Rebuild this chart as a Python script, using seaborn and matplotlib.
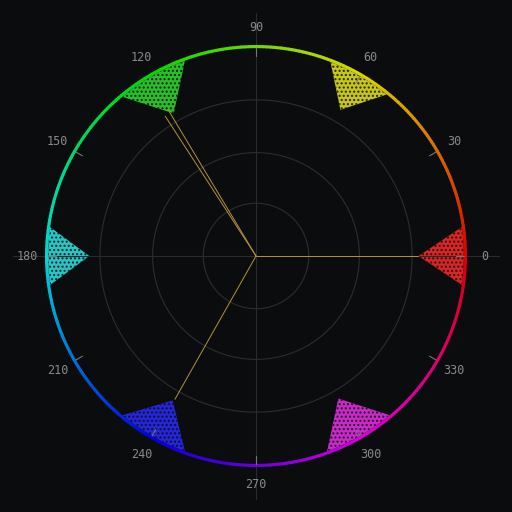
import numpy as np
import matplotlib
matplotlib.use("Agg")
import matplotlib.pyplot as plt
import matplotlib.colors as mcolors
import seaborn as sns

sns.set_style("dark")

# hue clusters: centre angle (deg), inner radius, half width at rim (deg), colour
cluster_hue = [0, 60, 120, 180, 240, 300]
cluster_inner = [0.77, 0.80, 0.78, 0.79, 0.79, 0.78]
cluster_half = [8, 9, 10, 8, 10, 10]
cluster_color = ["#ff2a2a", "#e8e820", "#30e030", "#30e8e8", "#2a2aff", "#ee30ee"]

# vector lines: angle (deg), length
vec_angle = [0, 121, 123, 240.5]
vec_len = [0.77, 0.81, 0.79, 0.78]

grid_r = [0.25, 0.49, 0.74]
tick_labels = [0, 30, 60, 90, 120, 150, 180, 210, 240, 270, 300, 330]

bg = "#0b0c0e"
fig = plt.figure(figsize=(5.12, 5.12), dpi=100, facecolor=bg)
ax = fig.add_axes([45 / 512, 45 / 512, 422 / 512, 422 / 512], projection="polar")
ax.set_facecolor(bg)
ax.set_ylim(0, 1.0)
ax.set_xticks([])
ax.set_yticks([])
ax.grid(False)
ax.spines["polar"].set_visible(False)

# crosshair
for a in [0, np.pi / 2, np.pi, 3 * np.pi / 2]:
    ax.plot([a, a], [0, 1.15], color="#2a2b2e", lw=0.8, clip_on=False)

th = np.linspace(0, 2 * np.pi, 400)
for r in grid_r:
    ax.plot(th, np.full_like(th, r), color="#2c2d30", lw=0.8)

# hue ring
for i in range(360):
    a0, a1 = np.radians(i), np.radians(i + 1.2)
    c = mcolors.hsv_to_rgb([i / 360, 1, 0.85])
    ax.plot([a0, a1], [0.995, 0.995], color=c, lw=3, solid_capstyle="butt")

# ticks
for d in tick_labels:
    a = np.radians(d)
    ax.plot([a, a], [0.95, 0.985], color="#777777", lw=0.8)
    ax.text(a, 1.085, str(d), color="#8a8a8a", fontsize=8.5, family="DejaVu Sans Mono",
            ha="center", va="center", clip_on=False)

# vectors
for a, l in zip(vec_angle, vec_len):
    ax.plot([0, np.radians(a)], [0, l], color="#b8923a", lw=0.7)

# clusters
for h, ri, hw, c in zip(cluster_hue, cluster_inner, cluster_half, cluster_color):
    ts = np.radians(np.linspace(h - hw, h + hw, 30))
    tt = np.concatenate([[np.radians(h)], ts, [np.radians(h)]])
    rr = np.concatenate([[ri], np.full(30, 0.985), [ri]])
    ax.fill(tt, rr, color=c, alpha=0.85, lw=0, hatch="....", edgecolor=bg)

fig.savefig("out.png", dpi=100, facecolor=bg)
